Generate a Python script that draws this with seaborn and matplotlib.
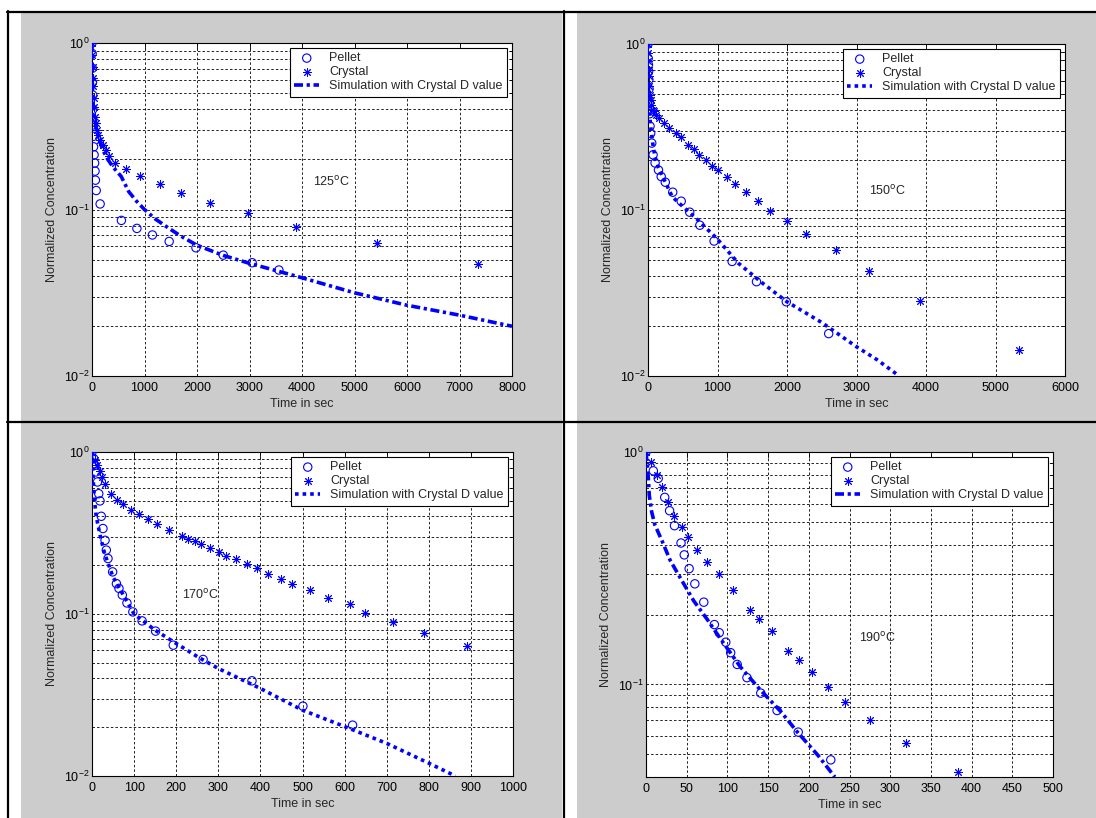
import numpy as np
import matplotlib.pyplot as plt
import seaborn as sns
from matplotlib.lines import Line2D
from matplotlib.patches import Rectangle
from matplotlib.ticker import LogLocator, MultipleLocator, NullFormatter, NullLocator

# =============================================
# DADOS (tempo em s, concentracao normalizada)
# =============================================
# 125 C
t_pellet_125 = [0, 3, 6, 9, 12, 15, 20, 25, 30, 40, 50, 58, 65, 80, 155,
                560, 855, 1150, 1470, 1980, 2500, 3050, 3560]
c_pellet_125 = [1.0, 0.865, 0.705, 0.58, 0.487, 0.40, 0.322, 0.275, 0.238, 0.213, 0.19,
                0.17, 0.15, 0.13, 0.108, 0.086, 0.077, 0.0703, 0.0643, 0.0589, 0.0532,
                0.0479, 0.0433]
t_crystal_125 = [0, 5, 10, 15, 20, 30, 40, 55, 70, 90, 120, 160, 200, 260, 330,
                 434, 645, 916, 1289, 1703, 2246, 2978, 3881, 5427, 7347]
c_crystal_125 = [1.0, 0.85, 0.72, 0.62, 0.55, 0.47, 0.41, 0.36, 0.33, 0.30, 0.28, 0.26,
                 0.245, 0.228, 0.21, 0.19, 0.175, 0.159, 0.143, 0.126, 0.110, 0.0948,
                 0.0788, 0.0631, 0.047]
t_sim_125 = [0, 2, 5, 10, 20, 40, 70, 110, 170, 220, 300, 400, 556, 700, 850, 1000,
             1200, 1440, 1700, 2000, 2500, 3000, 3500, 4000, 5000, 6000, 7000, 8000]
c_sim_125 = [1.0, 0.78, 0.62, 0.52, 0.44, 0.37, 0.32, 0.28, 0.245, 0.223, 0.2, 0.18,
             0.158, 0.128, 0.112, 0.1, 0.088, 0.078, 0.069, 0.061, 0.053, 0.0475, 0.043,
             0.0389, 0.0316, 0.0266, 0.0232, 0.0199]

# 150 C
t_pellet_150 = [0, 3, 6, 9, 12, 15, 20, 24, 29, 39, 54, 73, 102, 151, 190, 249, 356,
                478, 600, 746, 951, 1210, 1561, 1990, 2600]
c_pellet_150 = [1.0, 0.82, 0.75, 0.685, 0.61, 0.536, 0.446, 0.38, 0.32, 0.29, 0.253,
                0.215, 0.192, 0.174, 0.159, 0.147, 0.128, 0.113, 0.097, 0.081, 0.065,
                0.049, 0.037, 0.028, 0.018]
t_crystal_150 = [0, 3, 6, 10, 15, 20, 28, 38, 50, 70, 88, 121, 161, 234, 307, 405, 478,
                 576, 659, 737, 834, 917, 1000, 1137, 1249, 1410, 1576, 1761, 2005, 2268,
                 2712, 3185, 3907, 5341]
c_crystal_150 = [1.0, 0.88, 0.79, 0.70, 0.64, 0.555, 0.495, 0.46, 0.43, 0.40, 0.393,
                 0.375, 0.36, 0.334, 0.311, 0.291, 0.277, 0.245, 0.233, 0.215, 0.201,
                 0.185, 0.173, 0.158, 0.143, 0.128, 0.1136, 0.0993, 0.0861, 0.0718,
                 0.0575, 0.0432, 0.0283, 0.0143]
t_sim_150 = [0, 2, 5, 10, 20, 35, 50, 75, 100, 150, 250, 350, 500, 700, 1000, 1300,
             1650, 2000, 2500, 3000, 3300, 3600]
c_sim_150 = [1.0, 0.75, 0.6, 0.5, 0.40, 0.33, 0.29, 0.24, 0.21, 0.18, 0.147, 0.12,
             0.105, 0.0885, 0.0667, 0.0478, 0.0362, 0.028, 0.021, 0.015, 0.0125, 0.0101]

# 170 C
t_pellet_170 = [0, 4, 7, 9, 13, 16, 19, 22, 26, 31, 34, 38, 49, 58, 64, 72, 83, 97,
                119, 151, 193, 264, 380, 501, 619]
c_pellet_170 = [1.0, 0.91, 0.827, 0.753, 0.653, 0.553, 0.499, 0.401, 0.337, 0.285,
                0.248, 0.22, 0.182, 0.154, 0.144, 0.131, 0.117, 0.103, 0.0907, 0.0784,
                0.0642, 0.0524, 0.0387, 0.027, 0.0206]
t_crystal_170 = [0, 7, 13, 18, 24, 30, 45, 60, 73, 92, 111, 134, 155, 183, 214, 227,
                 244, 258, 281, 301, 318, 342, 367, 392, 419, 448, 475, 519, 560, 613,
                 648, 714, 789, 891]
c_crystal_170 = [1.0, 0.889, 0.828, 0.764, 0.701, 0.632, 0.553, 0.503, 0.476, 0.437,
                 0.413, 0.385, 0.358, 0.332, 0.303, 0.292, 0.283, 0.272, 0.257, 0.242,
                 0.229, 0.217, 0.203, 0.193, 0.176, 0.164, 0.153, 0.140, 0.126, 0.115,
                 0.102, 0.0895, 0.0765, 0.0634]
t_sim_170 = [0, 2, 5, 10, 20, 30, 50, 100, 150, 200, 250, 300, 400, 500, 600, 700,
             800, 863]
c_sim_170 = [1.0, 0.75, 0.53, 0.40, 0.30, 0.236, 0.169, 0.10, 0.0794, 0.0658, 0.0546,
             0.0461, 0.0347, 0.0255, 0.0202, 0.0159, 0.012, 0.01]

# 190 C
t_pellet_190 = [0, 9, 15, 23, 29, 35, 43, 47, 53, 60, 71, 84, 90, 98, 104, 112, 124,
                141, 161, 187, 227]
c_pellet_190 = [1.0, 0.83, 0.77, 0.638, 0.559, 0.482, 0.406, 0.361, 0.315, 0.271,
                0.226, 0.181, 0.167, 0.152, 0.137, 0.122, 0.107, 0.0918, 0.0773,
                0.0624, 0.0474]
t_crystal_190 = [0, 6, 14, 20, 27, 35, 44, 52, 63, 75, 90, 107, 128, 139, 155, 175,
                 188, 204, 223, 245, 275, 319, 383]
c_crystal_190 = [1.0, 0.906, 0.794, 0.707, 0.609, 0.529, 0.476, 0.431, 0.380, 0.336,
                 0.298, 0.254, 0.210, 0.192, 0.170, 0.140, 0.127, 0.113, 0.098, 0.0839,
                 0.070, 0.0561, 0.042]
t_sim_190 = [0, 1.6, 2.9, 4, 7, 11, 19.4, 29.7, 44, 58.6, 75, 91.6, 116, 141, 166,
             186, 211, 232]
c_sim_190 = [1.0, 0.876, 0.77, 0.652, 0.552, 0.485, 0.417, 0.342, 0.28, 0.229, 0.191,
             0.157, 0.119, 0.0943, 0.0762, 0.0624, 0.0497, 0.040]

rotulos = ['Pellet', 'Crystal', 'Simulation with Crystal D value']
temperaturas = ['125', '150', '170', '190']

# =============================================
# ESTILO
# =============================================
sns.set_theme(style="white")
plt.rcParams['font.family'] = ['Liberation Sans', 'DejaVu Sans']
plt.rcParams['mathtext.default'] = 'regular'
plt.rcParams['axes.unicode_minus'] = False

AZUL = '#0000ff'
CINZA = '#cccccc'
W, H = 1096, 818
TRACO_DOT = (0, (2.5, 1.0, 0.9, 1.0))
PONTILHADO = (0, (1.0, 1.1))
GRADE = dict(color='black', linewidth=0.6, linestyle=(0, (3, 2.5)))
ASTERISCO = (8, 2, 0)

fig = plt.figure(figsize=(W / 100, H / 100), dpi=100, facecolor='white')


def caixa_px(l, t, r, b):
    return [l / W, 1 - b / H, (r - l) / W, (b - t) / H]


# fundo cinza das quatro celulas (figuras do MATLAB)
for l, t, r, b in [(21, 13, 562, 421), (577, 13, W, 421),
                   (21, 423, 562, H), (577, 423, W, H)]:
    fig.add_artist(Rectangle((l / W, 1 - b / H), (r - l) / W, (b - t) / H,
                             transform=fig.transFigure, facecolor=CINZA,
                             edgecolor='none', zorder=0))

# linhas pretas da tabela
for xs, ys in [([7 / W, 1], [1 - 12 / H] * 2),
               ([7 / W, 1], [1 - 422 / H] * 2),
               ([7.5 / W] * 2, [0, 1 - 11 / H]),
               ([564 / W] * 2, [0, 1 - 11 / H])]:
    fig.add_artist(Line2D(xs, ys, transform=fig.transFigure, color='black', lw=1.6))


def painel(pos, t_p, c_p, t_c, c_c, t_s, c_s, estilo, xmax, passo, ymin, temp, tx, ty):
    ax = fig.add_axes(caixa_px(*pos))
    ax.set_facecolor('white')

    sns.scatterplot(x=t_p, y=c_p, ax=ax, marker='o', s=36, facecolor='none',
                    edgecolor=AZUL, linewidth=0.8, zorder=3, legend=False)
    h_p = ax.collections[-1]
    sns.scatterplot(x=t_c, y=c_c, ax=ax, marker=ASTERISCO, s=32, color=AZUL,
                    linewidth=0.7, zorder=3, legend=False)
    h_c = ax.collections[-1]
    sns.lineplot(x=t_s, y=c_s, ax=ax, color=AZUL, lw=2.6, linestyle=estilo,
                 estimator=None, sort=False, zorder=4, legend=False)
    h_s = ax.lines[-1]

    ax.set_yscale('log')
    ax.set_xlim(0, xmax)
    ax.set_ylim(ymin, 1)
    ax.xaxis.set_major_locator(MultipleLocator(passo))
    ax.xaxis.set_minor_locator(NullLocator())
    ax.yaxis.set_major_locator(LogLocator(base=10))
    ax.yaxis.set_minor_locator(LogLocator(base=10, subs=np.arange(2, 10)))
    ax.yaxis.set_minor_formatter(NullFormatter())

    ax.set_axisbelow(True)
    ax.grid(True, which='major', axis='x', **GRADE)
    ax.grid(True, which='both', axis='y', **GRADE)

    ax.tick_params(which='both', direction='in', top=True, right=True,
                   colors='black', labelsize=9, width=0.6)
    ax.tick_params(which='major', length=4)
    ax.tick_params(which='minor', length=2)
    ax.tick_params(axis='x', pad=4)
    ax.tick_params(axis='y', pad=2)
    for s in ax.spines.values():
        s.set_color('black')
        s.set_linewidth(0.8)

    ax.set_xlabel('Time in sec', fontsize=9, labelpad=3)
    ax.set_ylabel('Normalized Concentration', fontsize=9, labelpad=4)

    ax.text(tx, ty, temp + r'$^{\rm o}$C', fontsize=9, ha='left', va='center')

    leg = ax.legend([h_p, h_c, h_s], rotulos, loc='upper right', fontsize=9,
                    frameon=True, fancybox=False, framealpha=1, edgecolor='black',
                    borderaxespad=0.4, borderpad=0.35, labelspacing=0.15,
                    handlelength=2.0, handletextpad=0.8, scatterpoints=1)
    leg.get_frame().set_linewidth(0.8)
    return ax


painel((92, 43, 512, 376), t_pellet_125, c_pellet_125, t_crystal_125, c_crystal_125,
       t_sim_125, c_sim_125, TRACO_DOT, 8000, 1000, 0.01, temperaturas[0], 4206, 0.147)
painel((648, 44, 1065, 376), t_pellet_150, c_pellet_150, t_crystal_150, c_crystal_150,
       t_sim_150, c_sim_150, PONTILHADO, 6000, 1000, 0.01, temperaturas[1], 3176, 0.131)
painel((92, 452, 513, 776), t_pellet_170, c_pellet_170, t_crystal_170, c_crystal_170,
       t_sim_170, c_sim_170, PONTILHADO, 1000, 100, 0.01, temperaturas[2], 214, 0.131)
painel((646, 452, 1053, 777), t_pellet_190, c_pellet_190, t_crystal_190, c_crystal_190,
       t_sim_190, c_sim_190, TRACO_DOT, 500, 50, 0.04, temperaturas[3], 262, 0.159)

fig.savefig('out.png', dpi=100, facecolor=fig.get_facecolor())
